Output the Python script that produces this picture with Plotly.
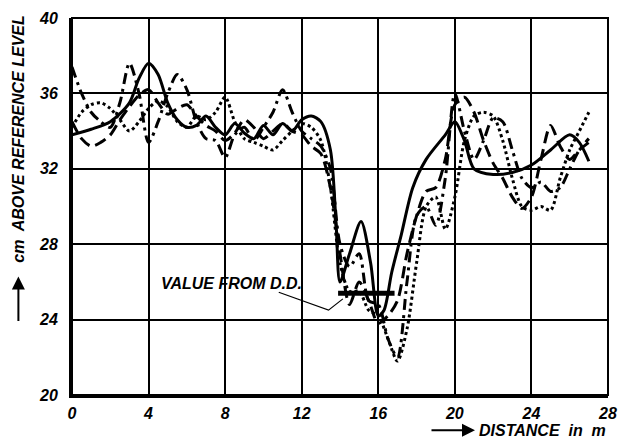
import plotly.graph_objects as go

# ---- data ----
x_solid = [0, 1, 2, 3, 3.5, 4, 4.5, 5, 5.5, 6, 6.5, 7, 7.5, 8, 8.5, 9, 9.5, 10, 10.5, 11, 11.5, 12, 12.5, 13, 13.5,
           13.8, 14, 14.5, 15.1, 15.6, 16, 16.3, 16.7, 17.2, 17.8, 18.5, 19.5, 20, 20.5, 21, 22, 23, 24, 25, 26, 26.5, 27]
y_solid = [33.8, 34.1, 34.5, 35.5, 36.8, 37.6, 37.0, 35.5, 34.6, 34.2, 34.3, 34.8, 34.2, 33.8, 34.4, 33.9, 33.6, 34.3, 33.8, 34.4, 34.0, 34.6, 34.8, 34.5, 33.0,
           29.0, 26.0, 27.5, 29.2, 27.0, 24.2, 24.5, 26.5, 28.5, 31.0, 32.5, 33.8, 34.5, 33.5, 32.0, 31.7, 31.8, 32.2, 33.0, 33.8, 33.4, 32.4]

x_half = [i * 0.5 for i in range(55)]
y_dash = [34.5, 33.6, 33.2, 33.4, 33.8, 34.6, 35.3, 35.9, 36.2, 35.5, 34.9, 35.2, 35.4, 34.8, 34.3, 34.0, 33.5, 33.9, 34.6, 34.2,
          33.6, 34.0, 34.4, 34.0, 33.8, 33.2, 32.8, 31.0, 27.5, 24.8, 26.0, 25.0, 23.8, 24.2, 25.0, 27.5, 29.5, 30.8, 31.0, 32.5,
          35.4, 35.8, 35.0, 33.5, 32.3, 31.5, 30.5, 29.9, 30.5, 32.5, 34.3, 33.2, 32.5, 33.0, 33.4]
y_dashdot = [37.4, 36.0, 35.0, 34.5, 34.2, 35.5, 37.6, 36.0, 33.4, 34.5, 36.0, 37.0, 36.2, 34.5, 33.6, 33.5, 32.6, 33.8, 34.2, 33.5,
             34.2, 35.0, 36.2, 35.0, 34.0, 33.6, 33.2, 32.0, 28.0, 26.8, 27.5, 25.0, 24.8, 23.0, 22.0, 26.0, 29.5, 30.0, 29.0, 31.5,
             36.0, 34.0, 32.5, 33.5, 34.7, 34.5, 33.0, 31.5, 31.0, 31.3, 30.8, 31.0, 32.0, 33.0, 33.6]
y_dot = [34.2, 35.0, 35.4, 35.5, 35.2, 34.6, 34.0, 34.5, 35.2, 35.6, 35.3, 34.5, 34.2, 34.8, 34.6, 35.0, 35.8, 34.5, 33.6, 33.4,
         33.2, 33.0, 33.5, 34.0, 34.4, 34.2, 33.5, 31.0, 27.0, 25.5, 25.5, 24.5, 24.2, 23.0, 21.8, 23.5, 27.0, 30.0, 30.5, 28.8,
         30.5, 33.5, 34.8, 35.0, 34.8, 33.5, 31.5, 30.0, 29.8, 30.0, 29.8, 31.5, 33.0, 34.0, 35.0]

dd_x = [13.9, 16.85]
dd_y = [25.4, 25.4]
leader_x = [10.8, 13.4, 14.15]
leader_y = [25.45, 24.5, 25.1]

x_ticks = [0, 4, 8, 12, 16, 20, 24, 28]
y_ticks = [20, 24, 28, 32, 36, 40]

FONT = "Liberation Sans"

fig = go.Figure()
fig.add_trace(go.Scatter(x=x_solid, y=y_solid, mode="lines",
                         line=dict(color="black", width=3, shape="spline", smoothing=0.8)))
fig.add_trace(go.Scatter(x=x_half, y=y_dash, mode="lines",
                         line=dict(color="black", width=3, dash="12px,6px", shape="spline", smoothing=0.8)))
fig.add_trace(go.Scatter(x=x_half, y=y_dashdot, mode="lines",
                         line=dict(color="black", width=3, dash="11px,5px,3px,5px", shape="spline", smoothing=0.8)))
fig.add_trace(go.Scatter(x=x_half, y=y_dot, mode="lines",
                         line=dict(color="black", width=3, dash="dot", shape="spline", smoothing=0.8)))
fig.add_trace(go.Scatter(x=dd_x, y=dd_y, mode="lines", line=dict(color="black", width=5)))
fig.add_trace(go.Scatter(x=leader_x, y=leader_y, mode="lines", line=dict(color="black", width=1.2)))

tickfont = dict(family=FONT, size=16, color="black", weight="bold", style="italic")
labfont = dict(family=FONT, size=16, color="black", weight="bold", style="italic")

fig.update_layout(
    width=627, height=447,
    margin=dict(l=72, r=15, t=10, b=52),
    paper_bgcolor="white", plot_bgcolor="white",
    showlegend=False,
    xaxis=dict(range=[0, 28], tickvals=x_ticks, ticktext=[str(v) for v in x_ticks],
               showgrid=True, gridcolor="black", gridwidth=1.5, zeroline=False,
               showline=True, linecolor="black", linewidth=3, ticks="",
               tickfont=tickfont, ticklabelstandoff=2),
    yaxis=dict(range=[20, 40], tickvals=y_ticks, ticktext=[str(v) for v in y_ticks],
               showgrid=True, gridcolor="black", gridwidth=1.5, zeroline=False,
               showline=True, linecolor="black", linewidth=3, ticks="",
               tickfont=tickfont, ticklabelstandoff=8),
    shapes=[dict(type="rect", xref="paper", yref="paper", x0=0, x1=1, y0=0, y1=1,
                 line=dict(color="black", width=2))],
    annotations=[
        dict(text="VALUE FROM D.D.", x=8.35, y=25.9, xref="x", yref="y", showarrow=False,
             font=labfont),
        # y-axis title with arrow
        dict(text="cm  ABOVE REFERENCE LEVEL", x=-0.1, y=(395 - 262) / 385, xref="paper", yref="paper",
             xanchor="center", yanchor="bottom", textangle=-90, showarrow=False, font=labfont),
        dict(text="", x=-0.1, y=(395 - 274) / 385, xref="paper", yref="paper",
             showarrow=True, ax=0, ay=46, arrowhead=2, arrowsize=1.3, arrowwidth=2, arrowcolor="black"),
        # x-axis title with arrow
        dict(text="DISTANCE  in  m", x=1, y=(395 - 431) / 385, xref="paper", yref="paper",
             xanchor="right", yanchor="middle", showarrow=False, font=labfont),
        dict(text="", x=(478 - 72) / 540, y=(395 - 431) / 385, xref="paper", yref="paper",
             showarrow=True, ax=-45, ay=0, arrowhead=2, arrowsize=1.3, arrowwidth=2, arrowcolor="black"),
    ],
)

fig.write_html("out.html")
